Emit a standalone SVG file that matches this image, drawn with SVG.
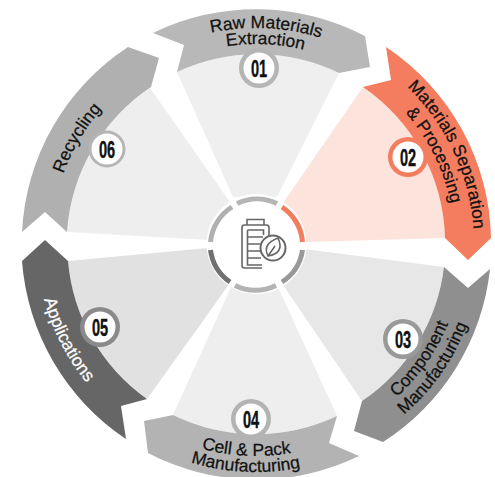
<svg xmlns="http://www.w3.org/2000/svg" width="495" height="477" viewBox="0 0 495 477">
<style>
.t{font-family:"Liberation Sans",Arial,sans-serif;font-size:17.5px;fill:#111;stroke:#111;stroke-width:.25px;text-anchor:middle}
.w{fill:#fff;stroke:#fff}
.n{font-family:"Liberation Sans",sans-serif;font-weight:700;font-size:23.5px;fill:#111;stroke:#111;stroke-width:.4px;text-anchor:middle}
.in{fill:#fff}
.seg{fill:none;stroke-width:5}
.ic{fill:none;stroke:#666;stroke-width:1.6}
</style>
<defs>
<path id="p1a" d="M125.1 72.2A216 216 0 0 1 402.5 85.2"/>
<path id="p1b" d="M134.8 85A200 200 0 0 1 391.6 97"/>
<path id="p2a" d="M348.1 46.4A218 218 0 0 1 466.6 300.4"/>
<path id="p2b" d="M335.4 61.5A199 199 0 0 1 449.5 290.4"/>
<path id="p3a" d="M309.8 444.9A208 208 0 0 0 463.2 225.9"/>
<path id="p3b" d="M314.5 462.3A226 226 0 0 0 481.1 224.3"/>
<path id="p4a" d="M112.3 399.8A212 212 0 0 0 384.5 412.5"/>
<path id="p4b" d="M101.4 411.6A228 228 0 0 0 394.2 425.3"/>
<path id="p5" d="M42.6 194.7A219 219 0 0 0 170.4 445.6"/>
<path id="p6" d="M53.7 277.5A205 205 0 0 1 187.9 50.6"/>
</defs>
<rect width="495" height="477" fill="#fff"/>
<g id="node-01">
<path fill="#efefef" d="M177 72A189 189 0 0 1 339 73L277 197L233 197Z"/>
<path fill="#b8b8b8" d="M153 33A235 235 0 0 1 365 36L370 67L339 73A189 189 0 0 0 177 72L184 45Z"/>
<circle cx="259" cy="68" r="20" fill="#b5b5b5"/><circle class="in" cx="259" cy="68" r="15.500"/>
<text class="n" transform="translate(259 76.500) scale(.62 1)">01</text>
<text class="t"><textPath href="#p1a" startOffset="50%">Raw Materials</textPath></text>
<text class="t"><textPath href="#p1b" startOffset="50%">Extraction</textPath></text>
</g>
<g id="node-02">
<path fill="#fce3dc" d="M363 87A189 189 0 0 1 445 238L305 242L283 203Z"/>
<path fill="#f47d5f" d="M386 47A235 235 0 0 1 491 238L468 260L445 238A189 189 0 0 0 363 87L391 80Z"/>
<circle cx="408" cy="157" r="20" fill="#f47d5f"/><circle class="in" cx="408" cy="157" r="15.500"/>
<text class="n" transform="translate(408 165.500) scale(.62 1)">02</text>
<text class="t"><textPath href="#p2a" startOffset="50%">Materials Separation</textPath></text>
<text class="t"><textPath href="#p2b" startOffset="50%">&amp; Processing</textPath></text>
</g>
<g id="node-03">
<path fill="#e7e7e7" d="M444 267A189 189 0 0 1 362 401L283 285L304 249Z"/>
<path fill="#8f8f8f" d="M444 267L468 288L490 269A235 235 0 0 1 383 442L354 431L362 401A189 189 0 0 0 444 267Z"/>
<circle cx="403" cy="339" r="20" fill="#999"/><circle class="in" cx="403" cy="339" r="15.500"/>
<text class="n" transform="translate(403 347.500) scale(.62 1)">03</text>
<text class="t"><textPath href="#p3a" startOffset="50%">Component</textPath></text>
<text class="t"><textPath href="#p3b" startOffset="50%">Manufacturing</textPath></text>
</g>
<g id="node-04">
<path fill="#eee" d="M173 415A189 189 0 0 0 337 416L277 285L232 285Z"/>
<path fill="#b3b3b3" d="M144 421L173 415A189 189 0 0 0 337 416L329 443L359 456A235 235 0 0 1 148 453Z"/>
<circle cx="251" cy="419" r="20" fill="#b3b3b3"/><circle class="in" cx="251" cy="419" r="15.500"/>
<text class="n" transform="translate(251 427.500) scale(.62 1)">04</text>
<text class="t"><textPath href="#p4a" startOffset="50%">Cell &amp; Pack</textPath></text>
<text class="t"><textPath href="#p4b" startOffset="50%">Manufacturing</textPath></text>
</g>
<g id="node-05">
<path fill="#e1e1e1" d="M68 261L208 248L230 283L147 399A189 189 0 0 1 68 261Z"/>
<path fill="#666" d="M45 240L68 261A189 189 0 0 0 147 399L121 406L126 439A235 235 0 0 1 22 261Z"/>
<circle cx="100" cy="327" r="20" fill="#8a8a8a"/><circle class="in" cx="100" cy="327" r="15.500"/>
<text class="n" transform="translate(100 335.500) scale(.62 1)">05</text>
<text class="t w"><textPath href="#p5" startOffset="50%">Applications</textPath></text>
</g>
<g id="node-06">
<path fill="#eee" d="M150 88L232 205L210 240L67 232A189 189 0 0 1 150 88Z"/>
<path fill="#b0b0b0" d="M128 47L159 58L151 87A189 189 0 0 0 67 232L45 212L22 232A235 235 0 0 1 128 47Z"/>
<circle cx="107" cy="149" r="18.500" fill="#b5b5b5"/><circle class="in" cx="107" cy="149" r="15.500"/>
<text class="n" transform="translate(107 157.500) scale(.62 1)">06</text>
<text class="t"><textPath href="#p6" startOffset="50%">Recycling</textPath></text>
</g>
<g id="hub">
<circle cx="256.500" cy="244" r="50" fill="#fff"/>
<path class="seg" stroke="#b5b5b5" d="M237 203.500A46 46 0 0 1 277 203.500"/>
<path class="seg" stroke="#f47d5f" d="M282 207A46 46 0 0 1 302.500 242"/>
<path class="seg" stroke="#999" d="M302.500 250A46 46 0 0 1 282 282"/>
<path class="seg" stroke="#b3b3b3" d="M276 285.500A46 46 0 0 1 235 285.500"/>
<path class="seg" stroke="#707070" d="M230 282A46 46 0 0 1 210.500 250"/>
<path class="seg" stroke="#b0b0b0" d="M210.500 242A46 46 0 0 1 232 207"/>
<g id="icon">
<path class="ic" d="M247 225V219.500H264V225"/>
<path class="ic" d="M262 268H244.500Q242 268 242 265.500V227.500Q242 225 244.500 225H266.500Q269 225 269 227.500V236"/>
<path class="ic" d="M247.500 230V265H262M247.500 230H263.500V235"/>
<path class="ic" d="M247.500 237H263M247.500 244H260M247.500 251H260M247.500 258H261"/>
<circle cx="273" cy="248" r="12.500" fill="#fff" stroke="#666" stroke-width="2"/>
<path class="ic" d="M268 256Q262 244 278 238Q285 253 268 256ZM268 256L275 246"/>
</g>
</g>
</svg>
